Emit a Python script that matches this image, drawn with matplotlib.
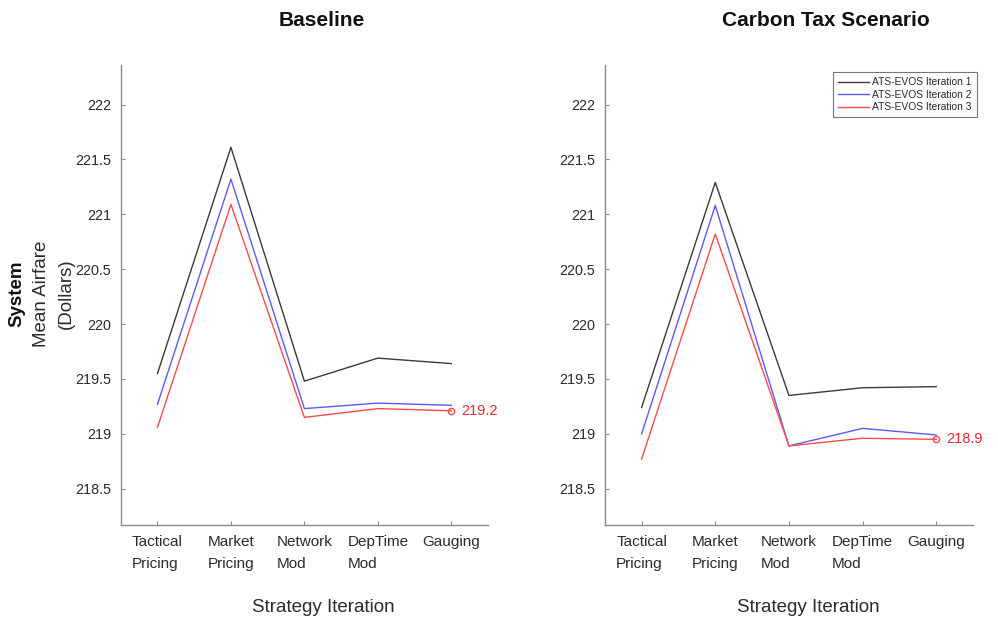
import matplotlib
matplotlib.use("Agg")
import matplotlib.pyplot as plt

plt.rcParams["font.family"] = ["Liberation Sans", "DejaVu Sans"]

# strategy iterations along the x axis
strategies = ["Tactical\nPricing", "Market\nPricing", "Network\nMod", "DepTime\nMod", "Gauging"]
x_pos = [1, 2, 3, 4, 5]

# system mean airfare (dollars)
baseline_iter1 = [219.55, 221.61, 219.48, 219.69, 219.64]
baseline_iter2 = [219.27, 221.32, 219.23, 219.28, 219.26]
baseline_iter3 = [219.06, 221.09, 219.15, 219.23, 219.21]

carbon_iter1 = [219.24, 221.29, 219.35, 219.42, 219.43]
carbon_iter2 = [219.00, 221.08, 218.89, 219.05, 218.99]
carbon_iter3 = [218.77, 220.82, 218.89, 218.96, 218.95]

series_labels = ["ATS-EVOS Iteration 1", "ATS-EVOS Iteration 2", "ATS-EVOS Iteration 3"]
series_colors = ["#3a3a3a", "#5a5aff", "#ff4a4a"]
y_ticks = [218.5, 219, 219.5, 220, 220.5, 221, 221.5, 222]

AXIS_GREY = "#8c8c8c"
TEXT_GREY = "#2b2b2b"

fig = plt.figure(figsize=(9.98, 6.22), dpi=100)
ax_left = fig.add_axes([0.121, 0.156, 0.368, 0.7395])
ax_right = fig.add_axes([0.606, 0.156, 0.369, 0.7395])

panels = [
    (ax_left, [baseline_iter1, baseline_iter2, baseline_iter3]),
    (ax_right, [carbon_iter1, carbon_iter2, carbon_iter3]),
]

for ax, series in panels:
    for vals, color, label in zip(series, series_colors, series_labels):
        ax.plot(x_pos, vals, color=color, lw=1.0, label=label)

    # open circle + label on the last point of iteration 3
    last = series[2][-1]
    ax.plot(x_pos[-1], last, "o", mfc="none", mec=series_colors[2], ms=4.5, mew=1.0)
    ax.annotate(f"{last:.1f}", xy=(x_pos[-1], last), xytext=(7, 0),
                textcoords="offset points", ha="left", va="center",
                fontsize=10.5, color="#e8282e")

    ax.set_xlim(0.5, 5.5)
    ax.set_ylim(218.17, 222.36)
    ax.set_xticks(x_pos)
    ax.set_xticklabels(strategies, multialignment="left", linespacing=1.75,
                       fontsize=11, color=TEXT_GREY)
    ax.set_yticks(y_ticks)
    ax.set_yticklabels([f"{t:g}" for t in y_ticks], fontsize=10.4, color=TEXT_GREY)
    ax.tick_params(direction="in", length=3, width=0.8, color=AXIS_GREY)
    ax.tick_params(axis="x", pad=7)
    ax.tick_params(axis="y", pad=7)
    for side in ["top", "right"]:
        ax.spines[side].set_visible(False)
    for side in ["left", "bottom"]:
        ax.spines[side].set_color(AXIS_GREY)
        ax.spines[side].set_linewidth(1.0)

# titles and axis labels placed by figure position
fig.text(322 / 998, 1 - 20 / 622, "Baseline", ha="center", va="center",
         fontsize=15, fontweight="bold", color="#111111")
fig.text(826 / 998, 1 - 20 / 622, "Carbon Tax Scenario", ha="center", va="center",
         fontsize=15, fontweight="bold", color="#111111")
fig.text(323 / 998, 1 - 608 / 622, "Strategy Iteration", ha="center", va="center",
         fontsize=13.5, color=TEXT_GREY)
fig.text(808 / 998, 1 - 608 / 622, "Strategy Iteration", ha="center", va="center",
         fontsize=13.5, color=TEXT_GREY)

fig.text(17 / 998, 1 - 294 / 622, "System", rotation=90, ha="center", va="center",
         fontsize=13.5, fontweight="bold", color="#111111")
fig.text(41 / 998, 1 - 294 / 622, "Mean Airfare", rotation=90, ha="center", va="center",
         fontsize=13.5, color=TEXT_GREY)
fig.text(66 / 998, 1 - 294 / 622, "(Dollars)", rotation=90, ha="center", va="center",
         fontsize=13.5, color=TEXT_GREY)

leg = ax_right.legend(loc="upper right", bbox_to_anchor=(977 / 998, 1 - 72 / 622),
                      bbox_transform=fig.transFigure, fontsize=7.4, frameon=True,
                      fancybox=False, handlelength=3.0, handletextpad=0.3,
                      labelspacing=0.25, borderpad=0.5, borderaxespad=0)
leg.get_frame().set_edgecolor("#555555")
leg.get_frame().set_linewidth(0.8)
for t in leg.get_texts():
    t.set_color(TEXT_GREY)

fig.savefig("out.png", dpi=100)
